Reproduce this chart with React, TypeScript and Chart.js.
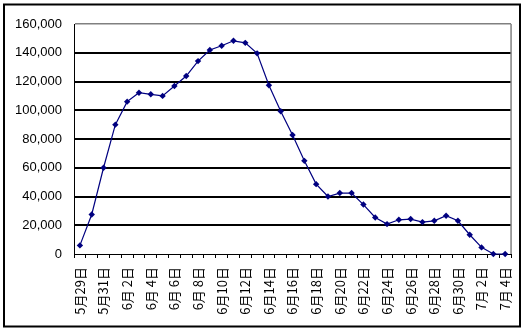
import { useEffect, useRef } from 'react';
import { Chart, registerables } from 'chart.js';
Chart.register(...registerables);

const categories = [
  '5月29日', '5月30日', '5月31日',
  '6月 1日', '6月 2日', '6月 3日', '6月 4日', '6月 5日', '6月 6日', '6月 7日', '6月 8日', '6月 9日', '6月10日',
  '6月11日', '6月12日', '6月13日', '6月14日', '6月15日', '6月16日', '6月17日', '6月18日', '6月19日', '6月20日',
  '6月21日', '6月22日', '6月23日', '6月24日', '6月25日', '6月26日', '6月27日', '6月28日', '6月29日', '6月30日',
  '7月 1日', '7月 2日', '7月 3日', '7月 4日',
];

const values = [
  6000, 27500, 60000, 90000, 106000, 112200, 111100, 110000, 116900, 123800,
  134200, 141900, 144900, 148300, 146900, 139600, 117400, 99300, 82800, 64800,
  48600, 40000, 42400, 42400, 34400, 25400, 20800, 23800, 24300, 22200,
  23100, 26600, 23100, 13400, 4600, 0, 0,
];

const yMin = 0;
const yMax = 160000;
const yStep = 20000;

export default function App() {
  const ref = useRef<HTMLCanvasElement>(null);
  useEffect(() => {
    document.body.style.margin = '0';
    const frame = {
      id: 'frame',
      beforeDraw(chart: any) {
        const ctx = chart.ctx;
        ctx.save();
        ctx.fillStyle = '#ffffff';
        ctx.fillRect(0, 0, chart.width, chart.height);
        ctx.restore();
      },
      afterDraw(chart: any) {
        const ctx = chart.ctx;
        const a = chart.chartArea;
        ctx.save();
        ctx.strokeStyle = '#808080';
        ctx.lineWidth = 1.5;
        ctx.beginPath();
        ctx.moveTo(a.right, a.top);
        ctx.lineTo(a.right, a.bottom);
        ctx.stroke();
        ctx.strokeStyle = '#000000';
        ctx.lineWidth = 2;
        ctx.strokeRect(4, 4.5, 516, 322);
        ctx.restore();
      },
    };
    const chart = new Chart(ref.current!, {
      type: 'line',
      data: {
        labels: categories,
        datasets: [
          {
            data: values,
            borderColor: '#000080',
            backgroundColor: '#000080',
            borderWidth: 1.2,
            pointStyle: 'rectRot',
            pointRadius: 3.2,
            pointBorderWidth: 0,
            tension: 0,
            clip: false as any,
          },
        ],
      },
      options: {
        animation: false,
        responsive: true,
        maintainAspectRatio: false,
        layout: { padding: { left: 0, right: 18, top: 24, bottom: 0 } },
        plugins: { legend: { display: false }, tooltip: { enabled: false } },
        scales: {
          x: {
            offset: true,
            afterFit: (s: any) => { s.height = 82; },
            border: { color: '#000000', width: 1 },
            grid: {
              offset: true,
              drawOnChartArea: false,
              drawTicks: true,
              tickLength: 4,
              color: '#000000',
            },
            ticks: {
              autoSkip: false,
              minRotation: 90,
              maxRotation: 90,
              padding: 9,
              color: '#000000',
              font: { family: "'Noto Sans CJK JP', sans-serif", size: 13 },
              callback: (_v: any, i: number) => (i % 2 === 0 ? categories[i] : ''),
            },
          },
          y: {
            min: yMin,
            max: yMax,
            afterFit: (s: any) => { s.width = 74; },
            border: { color: '#000000', width: 1 },
            grid: {
              drawTicks: false,
              color: (c: any) => (c.tick && c.tick.value === yMax ? '#808080' : '#000000'),
              lineWidth: (c: any) => (c.tick && c.tick.value === yMax ? 1.5 : c.tick && c.tick.value === 0 ? 1 : 2),
            },
            ticks: {
              stepSize: yStep,
              padding: 12,
              color: '#000000',
              font: { family: "'Liberation Sans', Arial, sans-serif", size: 13 },
              callback: (v: any) => Number(v).toLocaleString('en-US'),
            },
          },
        },
      },
      plugins: [frame],
    });
    return () => chart.destroy();
  }, []);
  return (
    <div style={{ position: 'relative', width: 530, height: 336 }}>
      <canvas ref={ref} />
    </div>
  );
}
